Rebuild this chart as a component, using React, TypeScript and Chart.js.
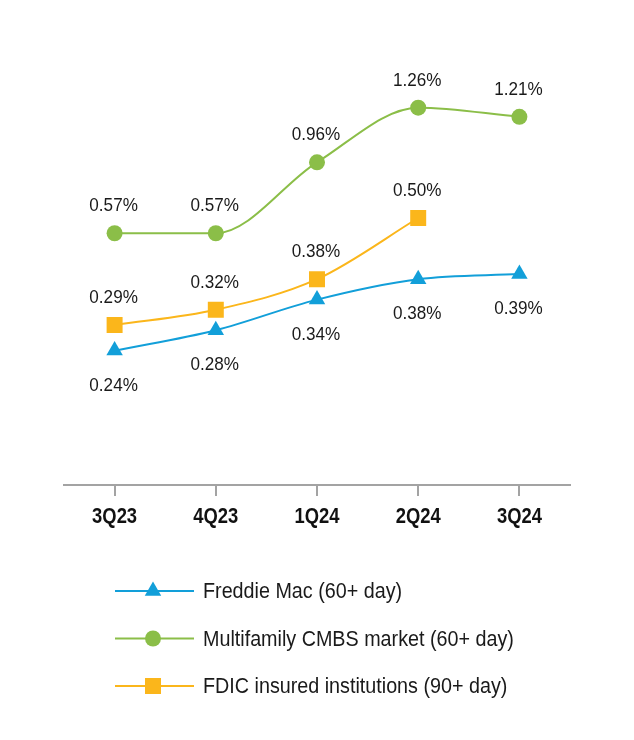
import React, { useEffect, useRef } from "react";
import { Chart, registerables } from "chart.js";

Chart.register(...registerables);

const categories = ["3Q23", "4Q23", "1Q24", "2Q24", "3Q24"];
const freddieMac = [0.24, 0.28, 0.34, 0.38, 0.39];
const cmbsMarket = [0.57, 0.57, 0.96, 1.26, 1.21];
const fdicInsured = [0.29, 0.32, 0.38, 0.5, null];
const seriesNames = [
  "Freddie Mac (60+ day)",
  "Multifamily CMBS market (60+ day)",
  "FDIC insured institutions (90+ day)",
];
const labelSide = ["below", "above", "above"];

const BLUE = "#129fd9";
const GREEN = "#8bbe48";
const ORANGE = "#fbb61b";
const FONT = "'Liberation Sans', Arial, sans-serif";

function narrowText(ctx: CanvasRenderingContext2D, txt: string, x: number, y: number, sx: number, align: CanvasTextAlign) {
  ctx.save();
  ctx.translate(x, y);
  ctx.scale(sx, 1);
  ctx.textAlign = align;
  ctx.fillText(txt, 0, 0);
  ctx.restore();
}

function drawMarker(ctx: CanvasRenderingContext2D, style: string, x: number, y: number, r: number, color: string) {
  ctx.save();
  ctx.fillStyle = color;
  ctx.beginPath();
  if (style === "circle") {
    ctx.arc(x, y, r, 0, Math.PI * 2);
  } else if (style === "rect") {
    const s = Math.SQRT1_2 * r;
    ctx.rect(x - s, y - s, 2 * s, 2 * s);
  } else if (style === "triangle") {
    let a = -Math.PI / 2;
    ctx.moveTo(x + Math.cos(a) * r, y + Math.sin(a) * r);
    a += (2 * Math.PI) / 3;
    ctx.lineTo(x + Math.cos(a) * r, y + Math.sin(a) * r);
    a += (2 * Math.PI) / 3;
    ctx.lineTo(x + Math.cos(a) * r, y + Math.sin(a) * r);
    ctx.closePath();
  }
  ctx.fill();
  ctx.restore();
}

const valueLabels = {
  id: "valueLabels",
  afterDatasetsDraw(chart: any) {
    const ctx = chart.ctx;
    ctx.save();
    ctx.font = `19px ${FONT}`;
    ctx.fillStyle = "#1a1a1a";
    ctx.textBaseline = "alphabetic";
    chart.data.datasets.forEach((ds: any, di: number) => {
      const meta = chart.getDatasetMeta(di);
      meta.data.forEach((pt: any, i: number) => {
        const v = ds.data[i];
        if (v === null || v === undefined) return;
        const txt = v.toFixed(2) + "%";
        const y = labelSide[di] === "above" ? pt.y - 22 : pt.y + 40;
        narrowText(ctx, txt, pt.x - 1, y, 0.9, "center");
      });
    });
    ctx.restore();
  },
};

const axisLabels = {
  id: "axisLabels",
  afterDraw(chart: any) {
    const ctx = chart.ctx;
    const xs = chart.scales.x;
    ctx.save();
    ctx.font = `bold 22px ${FONT}`;
    ctx.fillStyle = "#111";
    ctx.textBaseline = "alphabetic";
    categories.forEach((c, i) => {
      narrowText(ctx, c, xs.getPixelForValue(i), xs.top + 38, 0.836, "center");
    });
    ctx.restore();
  },
};

const lineLegend = {
  id: "lineLegend",
  afterDraw(chart: any) {
    const ctx = chart.ctx;
    const base = chart.chartArea.bottom;
    ctx.save();
    chart.data.datasets.forEach((ds: any, di: number) => {
      const y = base + 106 + di * 47.5;
      ctx.strokeStyle = ds.borderColor;
      ctx.lineWidth = 2;
      ctx.beginPath();
      ctx.moveTo(107, y);
      ctx.lineTo(186, y);
      ctx.stroke();
      drawMarker(ctx, ds.pointStyle, 145, y, ds.pointRadius, ds.backgroundColor);
      ctx.font = `22px ${FONT}`;
      ctx.fillStyle = "#1a1a1a";
      ctx.textBaseline = "alphabetic";
      narrowText(ctx, ds.label, 195, y + 7, 0.897, "left");
    });
    ctx.restore();
  },
};

export default function App() {
  const ref = useRef<HTMLCanvasElement | null>(null);
  useEffect(() => {
    if (!ref.current) return;
    const chart = new Chart(ref.current, {
      type: "line",
      data: {
        labels: categories,
        datasets: [
          {
            label: seriesNames[0],
            data: freddieMac,
            borderColor: BLUE,
            backgroundColor: BLUE,
            pointStyle: "triangle",
            pointRadius: 9.5,
            pointBorderWidth: 0,
            borderWidth: 2,
            cubicInterpolationMode: "monotone",
            yAxisID: "y",
          },
          {
            label: seriesNames[1],
            data: cmbsMarket,
            borderColor: GREEN,
            backgroundColor: GREEN,
            pointStyle: "circle",
            pointRadius: 8,
            pointBorderWidth: 0,
            borderWidth: 2,
            cubicInterpolationMode: "monotone",
            yAxisID: "y2",
          },
          {
            label: seriesNames[2],
            data: fdicInsured,
            borderColor: ORANGE,
            backgroundColor: ORANGE,
            pointStyle: "rect",
            pointRadius: 11.3,
            pointBorderWidth: 0,
            borderWidth: 2,
            cubicInterpolationMode: "monotone",
            yAxisID: "y",
          },
        ],
      } as any,
      options: {
        animation: false,
        responsive: false,
        maintainAspectRatio: false,
        layout: { padding: { left: 56, right: 56, top: 52, bottom: 236 } },
        plugins: { legend: { display: false }, tooltip: { enabled: false } },
        scales: {
          x: {
            offset: true,
            grid: {
              drawOnChartArea: false,
              drawTicks: true,
              tickLength: 11,
              color: "#a3a3a3",
              lineWidth: 2,
            },
            border: { display: true, color: "#a3a3a3", width: 2 },
            ticks: { display: false },
          },
          y: { display: false, min: -0.0235, max: 0.8098 },
          y2: { display: false, min: -0.813, max: 1.522 },
        },
      } as any,
      plugins: [valueLabels, axisLabels, lineLegend],
    });
    return () => chart.destroy();
  }, []);
  return (
    <div style={{ width: 618, height: 724 }}>
      <canvas ref={ref} width={618} height={724} style={{ width: 618, height: 724 }} />
    </div>
  );
}
